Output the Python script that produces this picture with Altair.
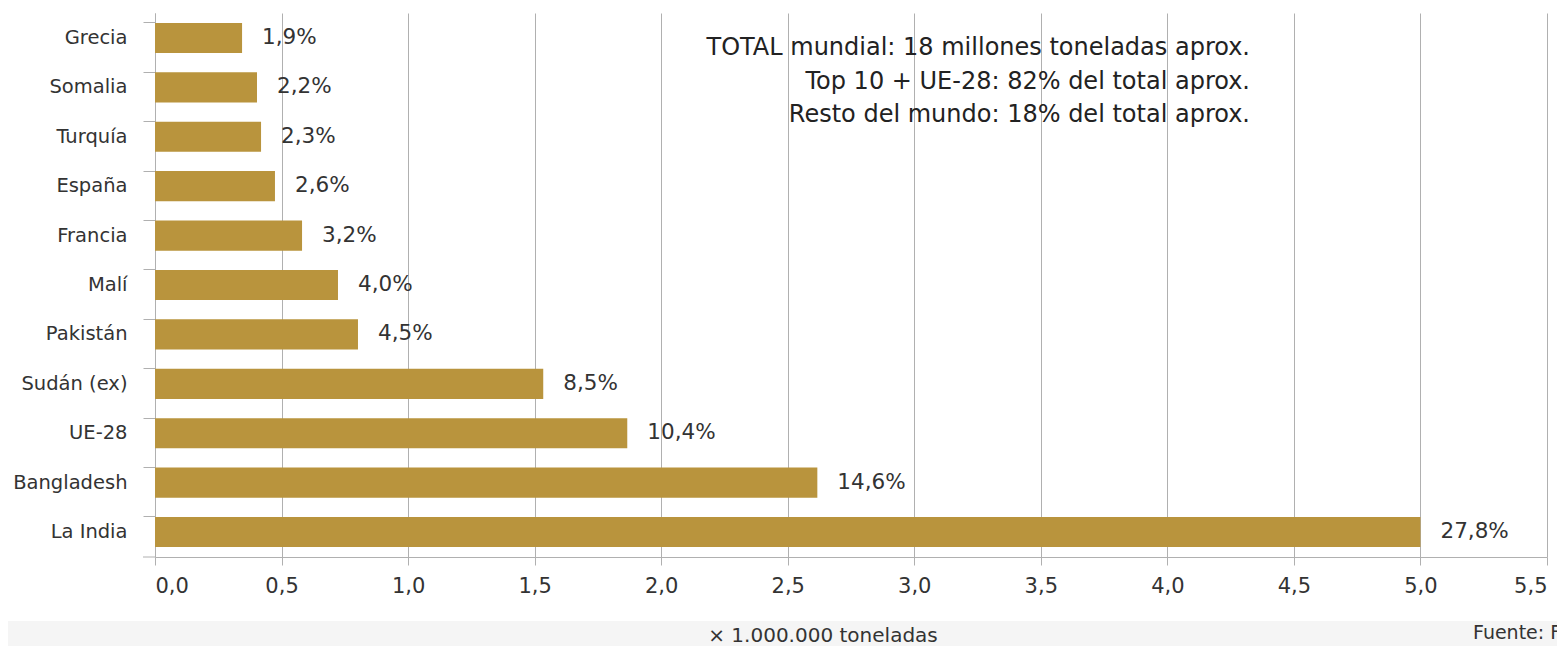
import altair as alt
import pandas as pd

countries = ["Grecia", "Somalia", "Turquía", "España", "Francia", "Malí",
             "Pakistán", "Sudán (ex)", "UE-28", "Bangladesh", "La India"]
values = [0.344, 0.403, 0.419, 0.474, 0.581, 0.723, 0.802, 1.534, 1.866, 2.617, 5.0]
pct_labels = ["1,9%", "2,2%", "2,3%", "2,6%", "3,2%", "4,0%", "4,5%",
              "8,5%", "10,4%", "14,6%", "27,8%"]
x_ticks = [0, 0.5, 1.0, 1.5, 2.0, 2.5, 3.0, 3.5, 4.0, 4.5, 5.0, 5.5]
notes = ["TOTAL mundial: 18 millones toneladas aprox.",
         "Top 10 + UE-28: 82% del total aprox.",
         "Resto del mundo: 18% del total aprox."]
x_title = "× 1.000.000 toneladas"
source = "Fuente: FAO"

FONT = "DejaVu Sans"
W, H = 1392, 544
GRID = "#b0b0b0"
TXT = "#333333"

df = pd.DataFrame({"pais": countries, "valor": values, "pct": pct_labels})

xscale = alt.Scale(domain=[0, 5.5], nice=False, zero=True)
yscale = alt.Scale(domain=countries, paddingInner=0.39, paddingOuter=0.2)

one = pd.DataFrame({"a": [0]})

bg = alt.Chart(one).mark_rect(color="#f5f5f5").encode(
    x=alt.value(-200), x2=alt.value(1500), y=alt.value(608), y2=alt.value(720)
)

bars = alt.Chart(df).mark_bar(color="#B9943D").encode(
    x=alt.X("valor:Q", scale=xscale,
            axis=alt.Axis(values=x_ticks, grid=True, gridColor=GRID,
                          gridWidth=1, domainColor=GRID, tickColor=GRID,
                          tickSize=8, labelFontSize=21, labelColor=TXT,
                          labelFont=FONT, labelPadding=10,
                          labelExpr="replace(format(datum.value, '.1f'), '.', ',')",
                          title=None)),
    y=alt.Y("pais:N", scale=yscale, sort=countries,
            axis=alt.Axis(title=None, bandPosition=0, tickSize=12,
                          tickColor=GRID, domainColor=GRID,
                          labelFontSize=19.5, labelFont=FONT, labelColor=TXT,
                          labelPadding=16, grid=False)),
)

labels = alt.Chart(df).mark_text(align="left", baseline="middle", dx=20,
                                 fontSize=21.5, font=FONT, color=TXT).encode(
    x=alt.X("valor:Q", scale=xscale),
    y=alt.Y("pais:N", scale=yscale, sort=countries),
    text="pct:N",
)

bottom_tick = alt.Chart(one).mark_rule(color=GRID).encode(
    x=alt.value(-12), x2=alt.value(0), y=alt.value(H)
)

note_ys = [35, 69, 102]
note_layers = [
    alt.Chart(pd.DataFrame({"t": [t]})).mark_text(
        align="right", baseline="middle", fontSize=24, font=FONT, color="#222222"
    ).encode(x=alt.value(1095), y=alt.value(yy), text="t:N")
    for t, yy in zip(notes, note_ys)
]

xtitle = alt.Chart(pd.DataFrame({"t": [x_title]})).mark_text(
    align="center", baseline="middle", fontSize=20, font=FONT, color=TXT
).encode(x=alt.value(668), y=alt.value(H + 79), text="t:N")

src = alt.Chart(pd.DataFrame({"t": [source]})).mark_text(
    align="left", baseline="middle", fontSize=19, font=FONT, color=TXT
).encode(x=alt.value(1318), y=alt.value(H + 76), text="t:N")

chart = alt.layer(bg, bars, labels, bottom_tick, *note_layers, xtitle, src).properties(
    width=W, height=H,
    background="white",
    autosize=alt.AutoSizeParams(type="none"),
    padding={"left": 147, "top": 5, "right": 10, "bottom": 110},
).configure_view(stroke=None)

chart.save("out.html", embed_options={"renderer": "svg", "actions": False})
